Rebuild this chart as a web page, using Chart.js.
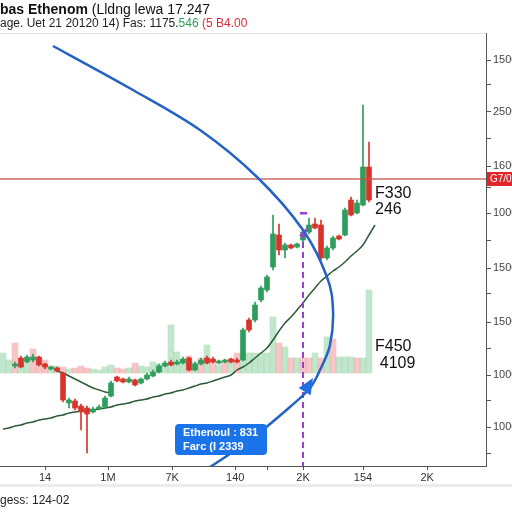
<!DOCTYPE html>
<html>
<head>
<meta charset="utf-8">
<script src="https://cdn.jsdelivr.net/npm/chart.js@4.4.0/dist/chart.umd.min.js"></script>
<style>
body{margin:0;background:#fff;font-family:"Liberation Sans",Arial,sans-serif;}
#wrap{position:relative;width:512px;height:512px;overflow:hidden;}
#chart{position:absolute;left:0;top:0;}
.t1{position:absolute;left:0;top:1px;font-size:14px;line-height:16px;color:#111;white-space:nowrap;}
.t2{position:absolute;left:0;top:17px;font-size:12px;line-height:13px;color:#222;white-space:nowrap;}
.sep{position:absolute;left:0;top:484px;width:512px;height:3px;background:#ececec;}
.foot{position:absolute;left:0;top:493px;font-size:12px;color:#222;white-space:nowrap;}
</style>
</head>
<body>
<div id="wrap">
  <canvas id="chart" width="512" height="512"></canvas>
  <div class="t1"><b>bas Ethenom</b> (Lldng lewa 17.247</div>
  <div class="t2">age. Uet 21 20120 14) Fas: 1175.<span style="color:#2e9e55">546</span> <span style="color:#d8303a">(5 B4.00</span></div>
  <div class="sep"></div>
  <div class="foot">gess: 124-02</div>
</div>
<script>
// candles start at slot 2
var candleStart = 2;
var candleOpen  = [1000,1080,1040,1060,1090,1020,970,980,930,630,650,600,580,540,570,590,700,890,870,840,860,830,870,900,940,1000,1040,1020,1030,1080,960,1020,1080,1070,1030,1040,1070,1060,1060,1460,1460,1660,1760,1990,2310,2160,2210,2190,2260,2340,2420,2410,2080,2180,2300,2310,2660,2530,2610,2990];
var candleClose = [1020,990,1090,1090,1010,990,990,950,660,660,580,540,520,570,590,680,830,850,840,870,810,870,910,940,1000,1030,1010,1040,1070,960,1020,1060,1030,1040,1050,1060,1040,1040,1360,1360,1610,1780,1890,2320,2160,2210,2180,2220,2340,2410,2380,2080,2180,2280,2270,2560,2510,2630,2990,2660];
var candleHigh  = [1040,1100,1110,1120,1100,1030,1000,990,940,680,670,620,600,590,610,700,850,900,880,890,870,880,930,960,1020,1050,1060,1060,1090,1090,1040,1080,1100,1090,1060,1070,1080,1080,1380,1480,1640,1800,1910,2510,2420,2230,2220,2230,2360,2480,2480,2460,2200,2300,2310,2580,2690,2660,3610,3240];
var candleLow   = [980,980,1030,1040,1000,970,960,940,640,580,560,360,130,530,560,580,690,840,830,830,800,820,860,890,930,990,1000,1010,1020,950,950,1010,1020,1030,1020,1030,1030,1030,1050,1340,1440,1640,1740,1960,2110,2080,2170,2180,2240,2320,2370,2060,2060,2160,2260,2300,2500,2520,2600,2640];

// volume, slots 0..61, bars float up from volBase
var volBase = 930;
var volTop = [1130,1060,1230,1030,1030,1170,1080,1060,1000,1000,990,970,980,1000,980,970,960,990,1010,980,970,980,1030,1000,990,1040,1020,1000,1410,1140,1060,1100,1040,1080,1210,1060,1010,1040,1060,1130,1130,1130,1130,1130,1130,1490,1230,1190,1080,1080,1080,1080,1130,1080,1290,1270,1090,1090,1090,1080,1080,1760];
var volUp  = [1,1,0,1,1,0,0,0,1,1,0,1,0,0,0,1,1,1,1,0,0,1,0,1,1,1,1,1,1,1,1,0,1,0,1,0,1,0,1,0,1,1,1,1,1,1,0,1,0,1,0,0,1,0,1,0,1,1,1,0,1,1];

// moving averages
var maLong = [370,380,400,410,430,440,460,470,480,500,510,530,540,550,560,560,570,580,590,610,620,630,650,660,670,690,700,720,730,750,760,780,800,820,830,850,870,890,910,960,990,1030,1080,1130,1180,1260,1350,1430,1490,1560,1630,1710,1780,1850,1900,1950,1990,2040,2100,2150,2210,2310,2410];
var maShortStart = 9;
var maShort = [950,930,900,870,840,810,780,760,740,730];

// axes
var xTickVals = [7, 17.5, 28.2, 38.7, 44, 50, 60, 70.7];
var xTickLabels = ['14', '1M', '7K', '140', '', '2K', '154', '2K'];
var yTickVals = [390, 910, 1440, 1980, 2530, 3000, 3540, 4060];
var yTickLabels = ['1000', '1000', '1500', '1500', '1000', '1600', '2500', '1500'];
var yMinorVals = [130, 660, 1180, 1730, 2260, 2790, 3280, 3810];

// annotations (data units)
var refPrice = 2870;
var refLabel = 'G7/00';
var arrowPts = [[8.33,4200],[21.67,3760],[32.83,3360],[42.33,2890],[50,2360],[54,1890],[55,1560],[54.5,1210],[52.83,960],[51.17,780],[47.83,590],[41.17,260],[34.5,-10]];
var arrowTip = [51.67, 880], arrowTail = [49.83, 700];
var markSlot = 50, markTop = 2340, markDash = 2530;
var notes = [
  {x: 62, y: 2680, text: 'F330'}, {x: 62, y: 2520, text: '246'},
  {x: 62, y: 1150, text: 'F450'}, {x: 62.8, y: 980, text: '4109'}
];
var boxX = [28.67, 44], boxY = [420, 110];
var boxLines = ['Ethenoul : 831', 'Farc (I 2339'];

var GREEN = '#2f9e5c', RED = '#d8342c';

var bodies = [], wicks = [], bodyCol = [];
for (var k = 0; k < candleOpen.length; k++) {
  bodies.push({x: candleStart + k, y: [candleOpen[k], candleClose[k]]});
  wicks.push({x: candleStart + k, y: [candleLow[k], candleHigh[k]]});
  bodyCol.push(candleClose[k] >= candleOpen[k] ? GREEN : RED);
}
var vols = [], volCol = [];
for (var i = 0; i < volTop.length; i++) {
  vols.push({x: i, y: [volBase, volTop[i]]});
  volCol.push(volUp[i] ? 'rgba(120,200,140,0.45)' : 'rgba(240,140,140,0.5)');
}
var maL = maLong.map(function (v, i) { return {x: i, y: v}; });
var maS = maShort.map(function (v, i) { return {x: maShortStart + i, y: v}; });

function smoothPath(ctx, pts) {
  ctx.moveTo(pts[0][0], pts[0][1]);
  for (var i = 0; i < pts.length - 1; i++) {
    var p0 = pts[i - 1] || pts[i], p1 = pts[i], p2 = pts[i + 1], p3 = pts[i + 2] || p2;
    ctx.bezierCurveTo(p1[0] + (p2[0] - p0[0]) / 6, p1[1] + (p2[1] - p0[1]) / 6,
                      p2[0] - (p3[0] - p1[0]) / 6, p2[1] - (p3[1] - p1[1]) / 6, p2[0], p2[1]);
  }
}

var extras = {
  id: 'extras',
  afterDatasetsDraw: function (chart) {
    var ctx = chart.ctx, xs = chart.scales.x, ys = chart.scales.y, a = chart.chartArea;
    function px(p) { return [xs.getPixelForValue(p[0]), ys.getPixelForValue(p[1])]; }
    ctx.save();
    ctx.beginPath(); ctx.rect(a.left, a.top, a.right - a.left, a.bottom - a.top); ctx.clip();

    // top border
    ctx.strokeStyle = '#e4e4e4'; ctx.lineWidth = 1;
    ctx.beginPath(); ctx.moveTo(a.left, a.top + 0.5); ctx.lineTo(a.right, a.top + 0.5); ctx.stroke();

    // reference price line
    var ry = ys.getPixelForValue(refPrice);
    ctx.strokeStyle = 'rgba(200,80,70,0.85)'; ctx.lineWidth = 1.5;
    ctx.beginPath(); ctx.moveTo(a.left, ry); ctx.lineTo(a.right, ry); ctx.stroke();

    // purple marker
    var mx = xs.getPixelForValue(markSlot);
    ctx.strokeStyle = '#9a3fd0'; ctx.lineWidth = 2; ctx.setLineDash([6, 4]);
    ctx.beginPath(); ctx.moveTo(mx, ys.getPixelForValue(markTop)); ctx.lineTo(mx, a.bottom); ctx.stroke();
    ctx.setLineDash([]);
    ctx.fillStyle = '#9a3fd0';
    var my = ys.getPixelForValue(markTop);
    ctx.beginPath(); ctx.moveTo(mx - 4, my + 4); ctx.lineTo(mx + 4, my - 5); ctx.lineTo(mx + 3, my + 5); ctx.closePath(); ctx.fill();
    ctx.fillRect(mx - 3, ys.getPixelForValue(markDash) - 1, 7, 2.5);

    // blue curved arrow
    ctx.strokeStyle = '#2462c4'; ctx.lineWidth = 2.5;
    ctx.beginPath(); smoothPath(ctx, arrowPts.map(px)); ctx.stroke();
    var t = px(arrowTip), b = px(arrowTail);
    var ang = Math.atan2(t[1] - b[1], t[0] - b[0]), L = 16, W = 7;
    ctx.fillStyle = '#1f6fe0';
    ctx.beginPath();
    ctx.moveTo(t[0], t[1]);
    ctx.lineTo(t[0] - L * Math.cos(ang) + W * Math.sin(ang), t[1] - L * Math.sin(ang) - W * Math.cos(ang));
    ctx.lineTo(t[0] - L * Math.cos(ang) - W * Math.sin(ang), t[1] - L * Math.sin(ang) + W * Math.cos(ang));
    ctx.closePath(); ctx.fill();

    // blue box
    var bx0 = xs.getPixelForValue(boxX[0]), bx1 = xs.getPixelForValue(boxX[1]);
    var by0 = ys.getPixelForValue(boxY[0]), by1 = ys.getPixelForValue(boxY[1]);
    ctx.fillStyle = '#1a73e8';
    ctx.beginPath(); ctx.roundRect(bx0, by0, bx1 - bx0, by1 - by0, 4); ctx.fill();
    ctx.fillStyle = '#fff'; ctx.font = 'bold 11px "Liberation Sans", Arial';
    ctx.textBaseline = 'middle';
    ctx.fillText(boxLines[0], bx0 + 8, by0 + 9);
    ctx.fillText(boxLines[1], bx0 + 8, by0 + 23);

    // notes
    ctx.fillStyle = '#111'; ctx.font = '16px "Liberation Sans", Arial'; ctx.textBaseline = 'alphabetic';
    notes.forEach(function (n) { ctx.fillText(n.text, xs.getPixelForValue(n.x), ys.getPixelForValue(n.y)); });
    ctx.restore();
  },
  afterDraw: function (chart) {
    var ctx = chart.ctx, ys = chart.scales.y, a = chart.chartArea;
    var ry = ys.getPixelForValue(refPrice);
    ctx.save();
    ctx.fillStyle = '#e0262b';
    ctx.fillRect(a.right + 1, ry - 7, 40, 14);
    ctx.fillStyle = '#fff'; ctx.font = '10px "Liberation Sans", Arial'; ctx.textBaseline = 'middle';
    ctx.fillText(refLabel, a.right + 4, ry);
    ctx.restore();
  }
};

new Chart(document.getElementById('chart').getContext('2d'), {
  type: 'bar',
  data: {
    datasets: [
      {type: 'bar', data: vols, backgroundColor: volCol, barThickness: 6, grouped: false, order: 5},
      {type: 'line', data: maL, borderColor: '#2d5a36', borderWidth: 1.5, pointRadius: 0, tension: 0.3, order: 4},
      {type: 'line', data: maS, borderColor: '#2d5a36', borderWidth: 1.5, pointRadius: 0, tension: 0.3, order: 4},
      {type: 'bar', data: wicks, backgroundColor: bodyCol, barThickness: 1, grouped: false, order: 2},
      {type: 'bar', data: bodies, backgroundColor: bodyCol, barThickness: 5, grouped: false, order: 1}
    ]
  },
  options: {
    responsive: false,
    animation: false,
    layout: {padding: {top: 33, left: 0, right: 0, bottom: 0}},
    plugins: {legend: {display: false}, tooltip: {enabled: false}},
    scales: {
      x: {
        type: 'linear', min: -0.5, max: 80.5, offset: false,
        grid: {offset: false, drawOnChartArea: false, tickLength: 4, tickColor: '#555'},
        border: {display: true, color: '#555', width: 1},
        afterBuildTicks: function (s) { s.ticks = xTickVals.map(function (v) { return {value: v}; }); },
        afterFit: function (s) { s.height = 46; },
        ticks: {
          autoSkip: false, maxRotation: 0, padding: 1, color: '#333',
          font: {family: '"Liberation Sans", Arial', size: 11},
          callback: function (v, i) { return xTickLabels[i]; }
        }
      },
      y: {
        type: 'linear', position: 'right', min: 0, max: 4330,
        grid: {drawOnChartArea: false, tickLength: 5, tickColor: '#555'},
        border: {display: true, color: '#555', width: 1},
        afterBuildTicks: function (s) {
          s.ticks = yTickVals.concat(yMinorVals).sort(function (p, q) { return p - q; })
            .map(function (v) { return {value: v}; });
        },
        afterFit: function (s) { s.width = 26; },
        ticks: {
          padding: 2, color: '#444',
          font: {family: '"Liberation Sans", Arial', size: 11},
          callback: function (v) { var j = yTickVals.indexOf(v); return j >= 0 ? yTickLabels[j] : ''; }
        }
      }
    }
  },
  plugins: [extras]
});
</script>
</body>
</html>
